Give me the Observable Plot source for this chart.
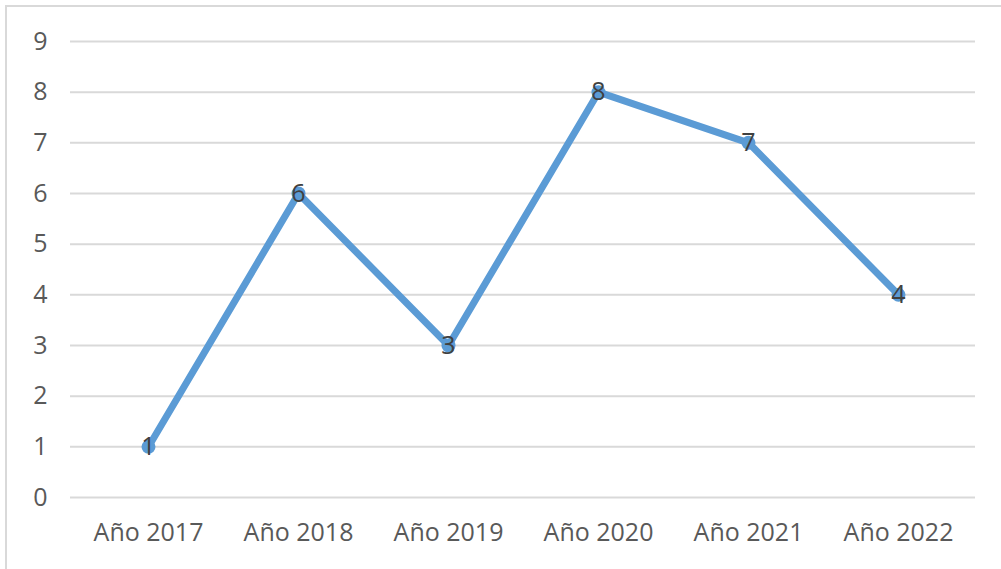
<!DOCTYPE html>
<html>
<head>
<meta charset="utf-8">
<script src="https://cdn.jsdelivr.net/npm/d3@7"></script>
<script src="https://cdn.jsdelivr.net/npm/@observablehq/plot@0.6"></script>
<style>
  html, body { margin: 0; padding: 0; background: #fff; overflow: hidden; }
  #chart { position: absolute; left: 0; top: 0; }
  #border { position: absolute; left: 5px; top: 5px; width: 1100px; height: 700px; border: 2px solid #d9d9d9; pointer-events: none; }
</style>
</head>
<body>
<div id="chart"></div>
<div id="border"></div>
<script>
const years = ["Año 2017", "Año 2018", "Año 2019", "Año 2020", "Año 2021", "Año 2022"];
const values = [1, 6, 3, 8, 7, 4];
const yTicks = [0, 1, 2, 3, 4, 5, 6, 7, 8, 9];

const data = years.map((y, i) => ({year: y, value: values[i]}));

const font = "'Open Sans', sans-serif";
const chart = Plot.plot({
  width: 1001,
  height: 569,
  marginLeft: 70,
  marginRight: 26,
  marginTop: 41,
  marginBottom: 72,
  style: {fontFamily: font, fontSize: "25px", color: "#595959", background: "#fff"},
  x: {type: "point", domain: years, padding: 0.5, label: null, tickSize: 0, tickPadding: 26},
  y: {domain: [0, 9], ticks: yTicks, label: null, tickSize: 0, tickPadding: 23},
  marks: [
    Plot.ruleY(yTicks, {stroke: "#d9d9d9", strokeWidth: 2}),
    Plot.line(data, {x: "year", y: "value", stroke: "#5b9bd5", strokeWidth: 7, strokeLinejoin: "round", strokeLinecap: "round"}),
    Plot.dot(data, {x: "year", y: "value", r: 7, fill: "#5b9bd5"}),
    Plot.text(data, {x: "year", y: "value", text: d => String(d.value), fill: "#404040", fontSize: 25, fontFamily: font})
  ]
});
document.getElementById("chart").appendChild(chart);
</script>
</body>
</html>
